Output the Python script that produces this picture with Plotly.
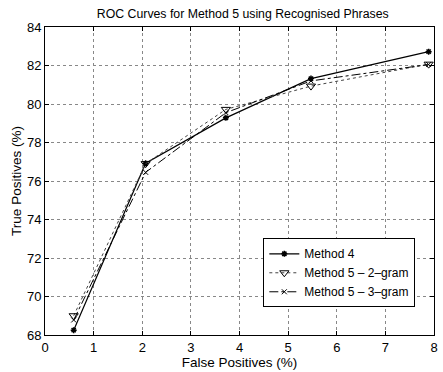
import plotly.graph_objects as go

fp = [0.59, 2.07, 3.72, 5.47, 7.89]
tp_m4 = [68.25, 76.92, 79.28, 81.32, 82.72]
tp_2g = [69.0, 76.9, 79.72, 80.93, 82.07]
tp_3g = [68.78, 76.45, 79.55, 81.2, 82.05]
names = ["Method 4", "Method 5 \u2013 2\u2013gram", "Method 5 \u2013 3\u2013gram"]

fig = go.Figure()
fig.add_trace(go.Scatter(x=fp, y=tp_m4, name=names[0], mode="lines+markers",
                         line=dict(color="black", width=1.2, dash="solid"),
                         marker=dict(symbol="asterisk", size=5, color="black",
                                     line=dict(color="black", width=1.5))))
fig.add_trace(go.Scatter(x=fp, y=tp_2g, name=names[1], mode="lines+markers",
                         line=dict(color="#444444", width=1, dash="dot"),
                         marker=dict(symbol="triangle-down-open", size=8, color="black",
                                     line=dict(color="black", width=1))))
fig.add_trace(go.Scatter(x=fp, y=tp_3g, name=names[2], mode="lines+markers",
                         line=dict(color="black", width=1, dash="dashdot"),
                         marker=dict(symbol="x-thin-open", size=5, color="black",
                                     line=dict(color="black", width=1))))

axis_common = dict(showline=True, linecolor="black", linewidth=1, mirror="ticks",
                   ticks="inside", ticklen=4, tickcolor="black",
                   showgrid=True, gridcolor="#888888", griddash="dot", gridwidth=1,
                   zeroline=False, tickfont=dict(size=13, color="black"))

fig.update_layout(
    width=443, height=372,
    margin=dict(l=45, r=5, t=27, b=36),
    paper_bgcolor="white", plot_bgcolor="white",
    font=dict(family="Liberation Sans, Arial, sans-serif", size=12, color="black"),
    title=dict(text="ROC Curves for Method 5 using Recognised Phrases",
               x=0.548, xanchor="center", y=0.962, yanchor="middle",
               font=dict(size=12.3)),
    xaxis=dict(range=[0, 8], dtick=1,
               title=dict(text="False Positives (%)", standoff=3, font=dict(size=13.5)),
               **axis_common),
    yaxis=dict(range=[68, 84], dtick=2,
               title=dict(text="True Positives (%)", standoff=2, font=dict(size=13.5)),
               **axis_common),
    legend=dict(x=0.952, y=0.09, xanchor="right", yanchor="bottom",
                bgcolor="white", bordercolor="black", borderwidth=1,
                font=dict(size=12), tracegroupgap=0, itemwidth=30),
    showlegend=True,
)

fig.write_html("out.html")
